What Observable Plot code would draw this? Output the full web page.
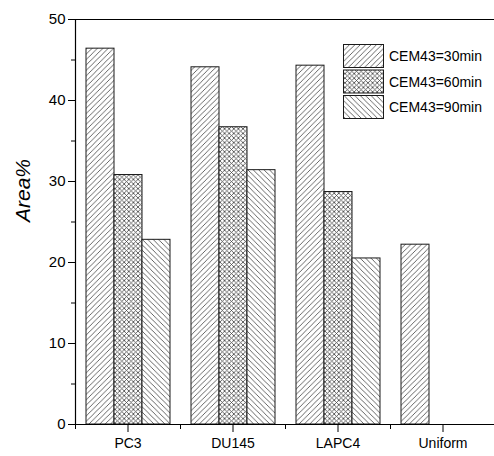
<!DOCTYPE html>
<html>
<head>
<meta charset="utf-8">
<script src="https://cdn.jsdelivr.net/npm/d3@7"></script>
<script src="https://cdn.jsdelivr.net/npm/@observablehq/plot@0.6"></script>
<style>
  body { margin: 0; background: #fff; }
  #chart { width: 494px; height: 456px; }
</style>
</head>
<body>
<div id="chart"></div>
<script>
// Cell lines (groups) and exposure series
const groups = ["PC3", "DU145", "LAPC4", "Uniform"];
const series = ["CEM43=30min", "CEM43=60min", "CEM43=90min"];

// Area% per group, ordered as in `series`
const pc3 = [46.4, 30.8, 22.8];
const du145 = [44.1, 36.7, 31.4];
const lapc4 = [44.3, 28.7, 20.5];
const uniform = [22.2];

const yTicks = [0, 10, 20, 30, 40, 50];
const yMinorTicks = [5, 15, 25, 35, 45];

const rows = [pc3, du145, lapc4, uniform].flatMap((vals, gi) =>
  vals.map((v, si) => ({group: groups[gi], series: series[si], value: v}))
);

// hatch pattern ids, one per series
const hatchIds = ["hatch-fwd", "hatch-cross", "hatch-back"];

const font = "'Liberation Sans', Arial, sans-serif";

const chart = Plot.plot({
  width: 494,
  height: 456,
  marginLeft: 75,
  marginRight: -1,
  marginTop: 19,
  marginBottom: 32,
  style: {fontFamily: font, fontSize: "14px", color: "#000", background: "#fff"},
  fx: {domain: groups, padding: 0, label: null},
  x: {domain: series, paddingInner: 0, paddingOuter: 0.375, axis: null},
  y: {domain: [0, 50], label: null},
  color: {type: "ordinal", domain: series, range: hatchIds.map((id) => `url(#${id})`)},
  marks: [
    Plot.barY(rows, {fx: "group", x: "series", y: "value", fill: "series", stroke: "#1a1a1a", strokeWidth: 1}),
    Plot.ruleY([0], {stroke: "#000", strokeWidth: 1.2}),
    Plot.ruleY([50], {stroke: "#000", strokeWidth: 1.2}),
    Plot.frame({anchor: "left", facetAnchor: "left", stroke: "#000", strokeWidth: 1.2}),
    // minor ticks on the category axis, at group boundaries
    Plot.frame({anchor: "left", insetTop: 405, insetBottom: -4, stroke: "#000"}),
    Plot.axisY({ticks: yTicks, tickSize: 7, tickPadding: 3, label: null, fontSize: 15}),
    Plot.axisY({ticks: yMinorTicks, tickSize: 4, tickFormat: () => "", label: null}),
    Plot.axisFx({anchor: "bottom", tickSize: 8, tickPadding: 6, label: null, fontSize: 14}),
    // y-axis title, centred on the axis
    Plot.text(["Area%"], {
      frameAnchor: "left", facetAnchor: "left", rotate: -90, dx: -52,
      fontSize: 21, fontStyle: "italic", fill: "#000"
    })
  ]
});

const svg = d3.select(chart);
const defs = svg.insert("defs", ":first-child");

function hatch(id, d, size) {
  const p = defs.append("pattern")
    .attr("id", id)
    .attr("patternUnits", "userSpaceOnUse")
    .attr("width", size)
    .attr("height", size);
  p.append("rect").attr("width", size).attr("height", size).attr("fill", "#fff");
  p.append("path").attr("d", d).attr("stroke", "#4a4a4a").attr("stroke-width", 0.85).attr("fill", "none");
}
const s1 = 5.4, s2 = 4.6;
const fwd = (s) => `M0,${s}L${s},0M-1,1L1,-1M${s - 1},${s + 1}L${s + 1},${s - 1}`;
const back = (s) => `M0,0L${s},${s}M-1,${s - 1}L1,${s + 1}M${s - 1},-1L${s + 1},1`;
hatch(hatchIds[0], fwd(s1), s1);
hatch(hatchIds[1], fwd(s2) + back(s2), s2);
hatch(hatchIds[2], back(s1), s1);

// legend, upper right inside the frame
const legend = svg.append("g")
  .attr("font-family", font)
  .attr("font-size", 14)
  .attr("text-anchor", "start");
series.forEach((name, i) => {
  const y = 44 + i * 25.5;
  legend.append("rect")
    .attr("x", 343.5).attr("y", y + 0.5)
    .attr("width", 40).attr("height", 23)
    .attr("fill", `url(#${hatchIds[i]})`)
    .attr("stroke", "#1a1a1a");
  legend.append("text")
    .attr("x", 389).attr("y", y + 12)
    .attr("dy", "0.36em")
    .attr("fill", "#000")
    .text(name);
});

document.getElementById("chart").appendChild(chart);
</script>
</body>
</html>
